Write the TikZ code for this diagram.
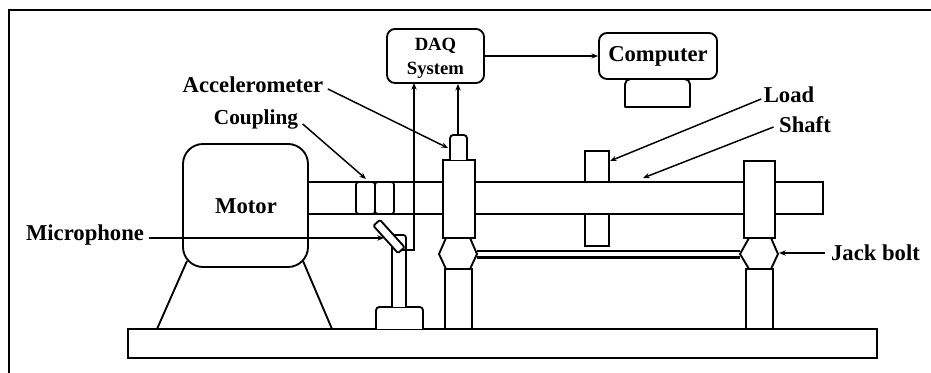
\documentclass[tikz,border=0pt]{standalone}
\usepackage{fontspec}
\setmainfont{Liberation Serif}
\usetikzlibrary{positioning,arrows.meta,calc}

\begin{document}
\begin{tikzpicture}[
  x=0.75pt,y=-0.75pt,
  part/.style={draw=black,fill=white,line width=1.4pt,inner sep=0pt,minimum width=#1},
  partline/.style={draw=black,line width=1.4pt,line join=round},
  tag/.style={font=\fontsize{17}{19}\selectfont\bfseries,inner sep=1pt},
  arr/.style={-{Stealth[length=5pt,width=4pt]},black,line width=1.1pt}
]
\useasboundingbox (0,0) rectangle (931,373);
% frame, top and left only
\coordinate (frameleft) at (9,373);
\coordinate (framecorner) at (9,10);
\coordinate (frameright) at (931,10);
\draw[partline,line width=1.9pt,line join=miter] (frameleft) -- (framecorner) -- (frameright);

% bed and motor feet
\node[part=749*0.75pt,minimum height=21.75pt] (bed) at (502.5,343.5) {};
\coordinate (footla) at (187,261);
\coordinate (footlb) at (157,329);
\coordinate (footra) at (303,261);
\coordinate (footrb) at (332,329);
\draw[partline] (footla) -- (footlb);
\draw[partline] (footra) -- (footrb);

% load disc behind the shaft
\node[part=24*0.75pt,minimum height=71.25pt] (load) at (597,198.5) {};
% shaft
\node[part=540*0.75pt,minimum height=24pt] (shaft) at (553,198) {};
% coupling
\node[part=19*0.75pt,minimum height=24pt,rounded corners=2pt] (couplea) at (365.5,198) {};
\node[part=19*0.75pt,minimum height=24pt,rounded corners=2pt] (coupleb) at (384.5,198) {};
% motor
\node[part=125*0.75pt,minimum height=92.25pt,rounded corners=15pt] (motor) at (245.5,205.5) {};

% bearing supports
\node[part=32*0.75pt,minimum height=58.5pt] (postlu) at (459,199) {};
\node[part=27*0.75pt,minimum height=45pt] (postll) at (458.5,299) {};
\node[part=31*0.75pt,minimum height=57.75pt] (postru) at (759.5,199.5) {};
\node[part=27*0.75pt,minimum height=45pt] (postrl) at (759.5,299) {};
% tie rod
\coordinate (rodla) at (477,251);
\coordinate (rodlb) at (477,257.5);
\coordinate (rodra) at (740,251);
\coordinate (rodrb) at (740,257.5);
\draw[partline,line width=1.1pt] (rodla) -- (rodra);
\draw[partline,line width=1.7pt] (rodlb) -- (rodrb);
% jack bolts
\draw[partline,fill=white] (439,254) -- (446,238) -- (470,238) -- (477,254) -- (470,269) -- (446,269) -- cycle;
\draw[partline,fill=white] (740,254) -- (749,238) -- (771,238) -- (778,254) -- (771,269) -- (749,269) -- cycle;

% accelerometer
\draw[partline,fill=white,rounded corners=2.5pt] (450,160) -- (450,135) -- (467,135) -- (467,160);
\node[inner sep=0pt,minimum width=12.75pt,minimum height=18.75pt] (accel) at (458,147.5) {};

% microphone stand
\draw[partline,fill=white,rounded corners=2.5pt] (376,329) -- (376,307) -- (423,307) -- (423,329);
\draw[partline,fill=white,rounded corners=2pt] (392,307) -- (392,235) -- (406,235) -- (406,307);

% DAQ and computer
\node[part=97*0.75pt,minimum height=40.5pt,rounded corners=6pt] (daq) at (435.5,56) {};
\node[tag,font=\fontsize{14}{18}\selectfont\bfseries,align=center] (daqtag) at (435.5,58) {DAQ\\System};
\node[part=118*0.75pt,minimum height=34.5pt,rounded corners=6pt,font=\fontsize{17}{19}\selectfont\bfseries] (computer) at (658,56) {Computer};
\draw[partline,fill=white,rounded corners=4pt] (625,107) -- (625,79) -- (690,79) -- (690,107);
\coordinate (standl) at (625,107);
\coordinate (standr) at (690,107);
\draw[partline,line cap=round] (standl) -- (standr);

% signal lines
\coordinate (wiretop) at (414,83);
\node[part=35*0.75pt,minimum height=5.25pt,rotate=-48,draw=none,fill=none] (mic) at (389,236.5) {};
\draw[arr] (mic.east) -| (wiretop);
\draw[partline,fill=white,rounded corners=1pt] (mic.north west) -- (mic.north east) -- (mic.south east) -- (mic.south west) -- cycle;
\draw[arr] (accel.north) -- (accel.north |- daq.south);
\draw[arr] (daq.east) -- (computer.west |- daq.east);

% labels
\node[tag] (motortag) at (246,206) {Motor};
\node[tag] (mictag) at (85,235) {Microphone};
\node[tag] (acceltag) at (253,85) {Accelerometer};
\node[tag,font=\fontsize{16}{19}\selectfont\bfseries] (coupletag) at (256,119) {Coupling};
\node[tag] (loadtag) at (789,95) {Load};
\node[tag] (shafttag) at (805,125) {Shaft};
\node[tag] (jacktag) at (875.5,253) {Jack bolt};

% leaders
\coordinate (micin) at (384,238);
\coordinate (accelin) at (448,148);
\coordinate (couplein) at (366,179);
\coordinate (loadin) at (610,161);
\coordinate (shaftin) at (643,178);
\coordinate (jackin) at (779,253);
\draw[arr] (mictag.east |- micin) ++(3,0) -- (micin);
\draw[arr] (acceltag.east) ++(3,4) -- (accelin);
\draw[arr] (coupletag.east) ++(3,5) -- (couplein);
\draw[arr] (loadtag.west) ++(-1,4) -- (loadin);
\draw[arr] (shafttag.west) ++(-4,2) -- (shaftin);
\draw[arr] (jacktag.west) ++(-5,0) -- (jackin);
\end{tikzpicture}
\end{document}
